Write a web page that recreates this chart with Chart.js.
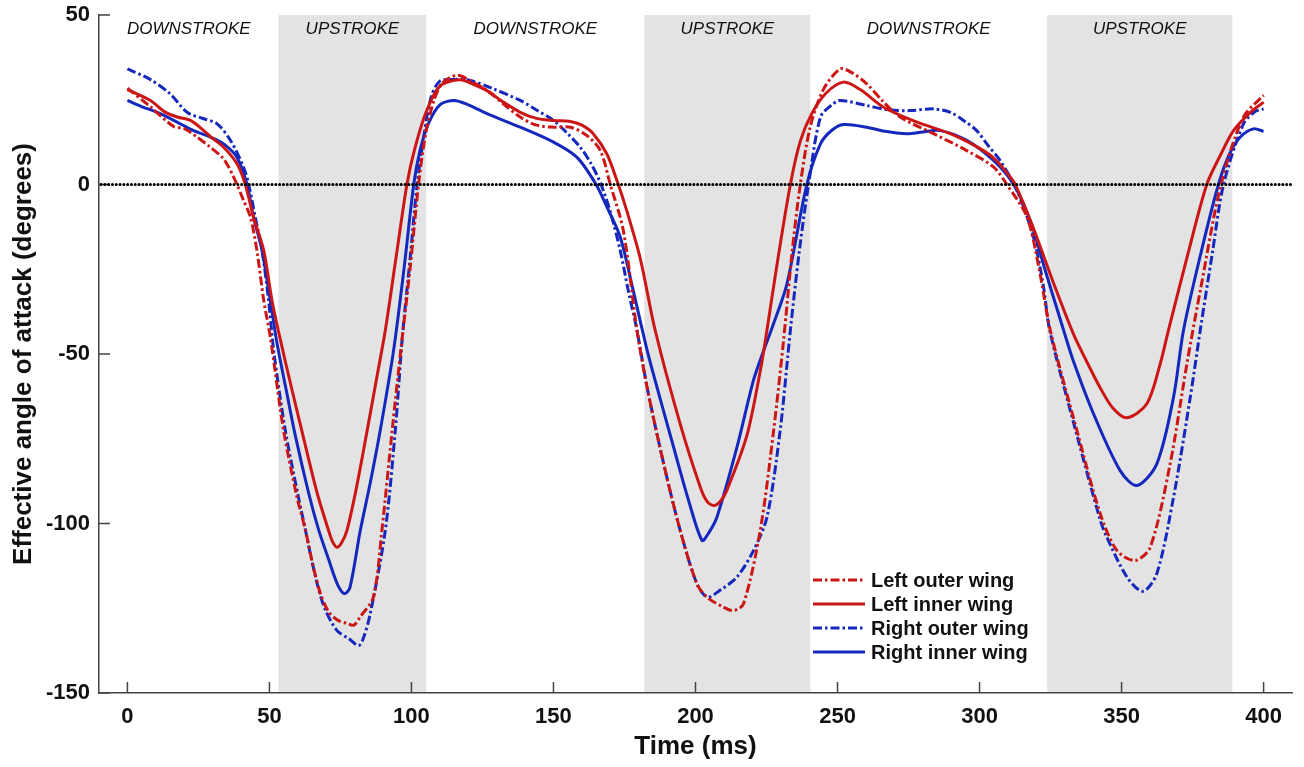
<!DOCTYPE html>
<html>
<head>
<meta charset="utf-8">
<title>Effective angle of attack</title>
<script src="https://cdn.jsdelivr.net/npm/chart.js@4.4.1/dist/chart.umd.min.js"></script>
<style>
  html, body { margin: 0; padding: 0; background: #fff; }
  #wrap { width: 1304px; height: 767px; }
</style>
</head>
<body>
<div id="wrap"><canvas id="aoaChart"></canvas></div>
<script>
// --- data (time in ms, angle in degrees) ---
const leftOuterT = [0, 8, 16.3, 20, 24.5, 29.2, 33.9, 37.4, 40.9, 43.3,
  45.6, 48, 50.3, 55, 59.7, 62.7, 65.5, 67.9, 70.8, 74,
  77.3, 79.7, 82, 86.6, 89.6, 93.2, 96.5, 99.5, 102.5, 105,
  108, 111, 116, 121, 127, 132, 138.3, 144, 150, 156,
  161.8, 166.5, 170, 174.6, 179.4, 183, 188.8, 194.6, 200.5, 204,
  209.9, 213.4, 216.9, 222.8, 227.5, 231, 234, 236.9, 240.4, 245,
  251, 255, 260.3, 266, 272, 283.8, 295.5, 305, 309.6, 316.7,
  321, 324.9, 334.3, 342.5, 348.4, 354.8, 360.1, 367.1, 373, 378,
  385, 392.9, 400];
const leftOuterV = [28.4, 23, 17.1, 16.5, 14, 11, 7.5, 2.2, -4.7, -9.6,
  -19.5, -34.2, -45, -72.6, -92.2, -102, -113, -120.5, -126, -128.5,
  -129.5, -130, -127.5, -121.7, -102, -72.6, -47, -25, 0, 15,
  25, 30, 32.2, 30.5, 27.5, 24, 19.9, 17.5, 16.9, 16.9,
  14.4, 10, 0, -13.6, -43, -60, -82.4, -102, -117.8, -121.7,
  -124.7, -125.7, -123.7, -102, -72.6, -46, -20, 0, 17, 28,
  34.1, 33, 29.7, 24.5, 19.9, 15, 10, 5.1, 0, -9.6,
  -25, -43, -72.6, -97.1, -108, -110.9, -107, -82.4, -52.9, -30,
  0, 19.9, 26.3];

const leftInnerT = [0, 8.1, 13, 17.5, 22.2, 26.9, 30, 33.9, 38.6, 41.5,
  44.4, 48, 50.9, 53.9, 57.5, 61.5, 66.8, 70.8, 72.3, 73.8,
  75.5, 77.3, 80.5, 84.4, 88, 90.8, 94.5, 98.4, 101, 105,
  110, 117, 122, 126.6, 132, 138.3, 144, 150, 156, 160,
  164, 168.8, 172.4, 175.9, 180.6, 185.8, 194.6, 201.7, 204, 206.4,
  208.7, 211, 218.1, 222.8, 224.6, 229, 233.4, 236.9, 241, 246,
  252.1, 258, 266.2, 278, 289.7, 301.4, 306, 310.8, 312.6, 319,
  326, 333, 337, 342.5, 347, 351.9, 358.9, 363.6, 366.5, 373.5,
  380, 385, 389.4, 395, 400];
const leftInnerV = [28, 24.8, 21.5, 19.9, 18.9, 15.9, 13.6, 11, 6.1, 0,
  -9.6, -19.5, -34.2, -46, -59, -73, -91, -102, -105.5, -107,
  -105.5, -102, -90, -72.6, -56, -43, -22, 0, 10, 21,
  29, 30.9, 29.5, 27.7, 24.5, 21.3, 19.5, 18.9, 18.6, 17.5,
  15, 9, 1, -8, -22, -43, -70.6, -89.3, -93.4, -94.7,
  -93.5, -90.3, -74, -55, -46, -22, 0, 12.8, 21, 27,
  30.2, 28, 22.8, 18.4, 15, 10, 7, 2.2, 0, -13,
  -29, -44, -51, -60, -66, -68.8, -64.7, -52.9, -43, -20,
  0, 9, 15.9, 21, 24.3];

const rightOuterT = [0, 8, 15.1, 21, 26.9, 31.6, 36.3, 40.9, 42.7, 45,
  47.4, 49.7, 51.5, 55.6, 60.2, 62.7, 64.4, 67.2, 69.7, 73.8,
  78, 81.4, 83, 85.5, 90.8, 94.3, 96.8, 99.5, 102, 104.5,
  107, 110, 115, 120.7, 128, 138.3, 144, 150, 155, 159.4,
  163, 166.5, 170, 173.5, 176.5, 179.4, 183, 188.8, 194.6, 200.5,
  204.2, 209, 214.6, 220.4, 225.2, 229.8, 233.4, 236.5, 239.8, 244,
  248, 251, 260.3, 268, 275.6, 283.8, 289.7, 295, 299, 303,
  307.3, 313.2, 319, 322.5, 324.7, 334.3, 342.5, 344.8, 351.9, 357.5,
  362.4, 368.3, 374.2, 377.7, 382, 385.9, 392.9, 397, 400];
const rightOuterV = [34.1, 31, 26.7, 21.3, 19.4, 17.9, 13, 5.1, 0, -9.6,
  -19.5, -34.2, -49, -72.6, -92.2, -102, -109, -119, -125.5, -131.6,
  -134, -136, -134, -126.6, -102, -72.6, -45, -22, 0, 15,
  26, 30.5, 31, 30.7, 28.5, 24.8, 22, 18.9, 15, 11,
  6.5, 0.5, -8, -19.5, -32, -43, -60, -82.4, -102, -117.8,
  -121.7, -119.5, -115.8, -108, -98, -72.6, -43, -20, 0, 19.9,
  23.5, 24.8, 23.3, 22, 21.8, 22.3, 21.3, 18.5, 15.9, 11.5,
  7, -1.8, -15.5, -30, -43, -74, -99, -104, -115.8, -120,
  -114.8, -92.2, -62.7, -43, -20, 0, 17.9, 21.5, 22.3];

const rightInnerT = [0, 5, 11.6, 17.5, 23.3, 29.2, 33.9, 38.6, 42.1, 44.4,
  47.4, 50.3, 52.7, 56, 59.1, 63.8, 67.2, 70.8, 74, 76.4,
  78.3, 82, 85.5, 89, 93.7, 97.5, 100.8, 103, 106, 110,
  115, 120, 126.6, 138.3, 150, 158.3, 165, 169, 173.5, 178,
  183, 187.5, 192.3, 197.5, 202.3, 204.5, 207.6, 214.6, 220.4, 224,
  227.5, 232.2, 239.2, 244, 248, 252.1, 260.3, 266, 274.4, 280,
  286.2, 295.5, 305, 312, 318, 323, 329.6, 333, 340.1, 349.5,
  355.4, 362.4, 368.3, 371.8, 378, 384.1, 388, 391.8, 396.4, 400];
const rightInnerV = [24.8, 23, 20.9, 18.4, 15.9, 14, 12, 8, 0, -9.6,
  -19.5, -34.2, -47, -61, -74, -91, -101.5, -110.5, -118, -120.7,
  -119, -102, -88, -72.6, -49, -24, 0, 10, 18, 23.5,
  24.8, 23.5, 20.9, 16.9, 12.5, 8, 0, -7, -15.5, -31,
  -49, -63, -77.5, -93, -105, -103, -98, -77.5, -57.8, -49,
  -41, -29.3, 0, 12, 16, 17.7, 16.9, 15.8, 15, 15.5,
  15.9, 13, 7, 0, -11, -25, -43, -52, -67.6, -84.4,
  -88.8, -82.4, -62.7, -43, -20, 0, 9, 14, 16.4, 15.7];

const xTicks = [0, 50, 100, 150, 200, 250, 300, 350, 400];
const yTicks = [50, 0, -50, -100, -150];
const upstrokeStart = [53.2, 182, 323.8];
const upstrokeEnd = [105.2, 240.4, 389];
const phaseNames = ['DOWNSTROKE', 'UPSTROKE', 'DOWNSTROKE', 'UPSTROKE', 'DOWNSTROKE', 'UPSTROKE'];

const RED = '#cc1616';
const BLUE = '#1428be';
const DASH_DOT = [9, 3, 2.5, 3];
const LINE_W = 3;
const FONT = '"Liberation Sans", Arial, Helvetica, sans-serif';

const toPoints = (ts, vs) => ts.map((t, i) => ({ x: t, y: vs[i] }));

// grey upstroke bands, phase labels, inward tick marks
const strokeBands = {
    id: 'strokeBands',
    beforeDatasetsDraw(chart) {
        const { ctx, chartArea: a, scales: { x, y } } = chart;
        ctx.save();
        ctx.fillStyle = '#e3e3e3';
        upstrokeStart.forEach((s, i) => {
            const x0 = x.getPixelForValue(s);
            const x1 = x.getPixelForValue(upstrokeEnd[i]);
            ctx.fillRect(x0, a.top, x1 - x0, a.bottom - a.top - 1);
        });

        const edges = [x.min];
        upstrokeStart.forEach((s, i) => edges.push(s, upstrokeEnd[i]));
        ctx.fillStyle = '#111';
        ctx.font = 'italic 17px ' + FONT;
        ctx.textAlign = 'center';
        ctx.textBaseline = 'middle';
        phaseNames.forEach((name, i) => {
            const cx = (x.getPixelForValue(edges[i]) + x.getPixelForValue(edges[i + 1])) / 2;
            ctx.fillText(name, cx, a.top + 14);
        });

        ctx.strokeStyle = '#444';
        ctx.lineWidth = 1.5;
        ctx.beginPath();
        xTicks.forEach(v => {
            const px = x.getPixelForValue(v);
            ctx.moveTo(px, a.bottom);
            ctx.lineTo(px, a.bottom - 11);
        });
        yTicks.forEach(v => {
            const py = y.getPixelForValue(v);
            ctx.moveTo(a.left, py);
            ctx.lineTo(a.left + 11, py);
        });
        ctx.stroke();
        ctx.restore();
    }
};

// dotted zero line
const zeroLine = {
    id: 'zeroLine',
    afterDatasetsDraw(chart) {
        const { ctx, chartArea: a, scales: { y } } = chart;
        const y0 = y.getPixelForValue(0);
        ctx.save();
        ctx.strokeStyle = '#000';
        ctx.lineWidth = 3;
        ctx.lineCap = 'round';
        ctx.setLineDash([0.1, 3.7]);
        ctx.beginPath();
        ctx.moveTo(a.left + 2, y0);
        ctx.lineTo(a.right, y0);
        ctx.stroke();
        ctx.restore();
    }
};

// legend without a box, bottom-middle of the plot
const wingLegend = {
    id: 'wingLegend',
    afterDraw(chart) {
        const { ctx } = chart;
        ctx.save();
        ctx.font = 'bold 20px ' + FONT;
        ctx.textAlign = 'left';
        ctx.textBaseline = 'middle';
        chart.data.datasets.forEach((ds, i) => {
            const yy = 580 + i * 24;
            ctx.strokeStyle = ds.borderColor;
            ctx.lineWidth = LINE_W;
            ctx.setLineDash(ds.borderDash || []);
            ctx.beginPath();
            ctx.moveTo(813, yy);
            ctx.lineTo(865, yy);
            ctx.stroke();
            ctx.fillStyle = '#111';
            ctx.fillText(ds.label, 871, yy + 1);
        });
        ctx.restore();
    }
};

new Chart(document.getElementById('aoaChart'), {
    type: 'line',
    data: {
        datasets: [
            { label: 'Left outer wing', data: toPoints(leftOuterT, leftOuterV), borderColor: RED, borderDash: DASH_DOT },
            { label: 'Left inner wing', data: toPoints(leftInnerT, leftInnerV), borderColor: RED },
            { label: 'Right outer wing', data: toPoints(rightOuterT, rightOuterV), borderColor: BLUE, borderDash: DASH_DOT },
            { label: 'Right inner wing', data: toPoints(rightInnerT, rightInnerV), borderColor: BLUE }
        ]
    },
    options: {
        responsive: true,
        maintainAspectRatio: false,
        animation: false,
        layout: { padding: { top: 15, right: 12, left: 0, bottom: 0 } },
        elements: {
            point: { radius: 0 },
            line: { borderWidth: LINE_W, tension: 0.3, fill: false }
        },
        plugins: { legend: { display: false }, tooltip: { enabled: false } },
        scales: {
            x: {
                type: 'linear',
                min: -10,
                max: 410,
                afterBuildTicks: s => { s.ticks = xTicks.map(v => ({ value: v })); },
                afterFit: s => { s.height = 74; s.paddingLeft = 0; s.paddingRight = 0; },
                grid: { display: false, drawTicks: false },
                border: { color: '#444', width: 1.5 },
                ticks: { color: '#111', padding: 11, maxRotation: 0, font: { family: FONT, size: 22, weight: 'bold' } },
                title: { display: true, text: 'Time (ms)', color: '#111', padding: { top: 0, bottom: 5 }, font: { family: FONT, size: 26, weight: 'bold' } }
            },
            y: {
                min: -150,
                max: 50,
                afterBuildTicks: s => { s.ticks = yTicks.map(v => ({ value: v })); },
                afterFit: s => { s.width = 99; s.paddingTop = 0; s.paddingBottom = 0; },
                grid: { display: false, drawTicks: false },
                border: { color: '#444', width: 1.5 },
                ticks: { color: '#111', padding: 9, font: { family: FONT, size: 22, weight: 'bold' } },
                title: { display: true, text: 'Effective angle of attack (degrees)', color: '#111', padding: { top: 8, bottom: 0 }, font: { family: FONT, size: 26, weight: 'bold' } }
            }
        }
    },
    plugins: [strokeBands, zeroLine, wingLegend]
});
</script>
</body>
</html>
